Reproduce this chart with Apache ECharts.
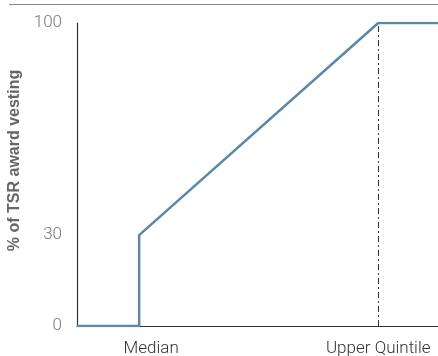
<!DOCTYPE html>
<html>
<head>
<meta charset="utf-8">
<script src="https://cdn.jsdelivr.net/npm/echarts@6/dist/echarts.min.js"></script>
<style>
  html, body { margin: 0; padding: 0; background: #fff; }
  #chart { width: 438px; height: 356px; }
</style>
</head>
<body>
<div id="chart"></div>
<script>
// Relative TSR ranking (percentile) and the share of the award that vests
const rankPercentile = [42.2, 50, 50, 80, 87.5];
const vestingPct = [0, 0, 30, 100, 100];
const xTickValues = [50, 80];
const xTickLabels = ['Median', 'Upper Quintile'];
const yTickValues = [0, 30, 100];
const upperQuintile = 80;

const chart = echarts.init(document.getElementById('chart'));
const labelFont = 'Roboto, "Liberation Sans", Arial, sans-serif';
const nameFont = '"Liberation Sans", Arial, sans-serif';

chart.setOption({
  animation: false,
  grid: { left: 77, right: 0, top: 23, bottom: 30, outerBoundsMode: 'none', containLabel: false },
  graphic: [{
    type: 'line',
    shape: { x1: 9, y1: 4.5, x2: 438, y2: 4.5 },
    style: { stroke: '#888', lineWidth: 1 }
  }],
  xAxis: {
    type: 'value',
    min: 42.2,
    max: 87.5,
    splitLine: { show: false },
    axisLine: { show: true, lineStyle: { color: '#333', width: 1.2 } },
    axisTick: { show: false },
    axisLabel: {
      customValues: xTickValues,
      formatter: v => {
        const i = xTickValues.indexOf(v);
        return i === 0 ? '{m|' + xTickLabels[i] + '}' : (xTickLabels[i] || '');
      },
      rich: {
        m: { padding: [0, 0, 0, 24], color: '#333', fontSize: 17, fontWeight: 300, fontFamily: labelFont }
      },
      color: '#333',
      fontSize: 17,
      fontWeight: 300,
      fontFamily: labelFont,
      margin: 14,
      hideOverlap: false
    }
  },
  yAxis: {
    type: 'value',
    min: 0,
    max: 100,
    name: '% of TSR award vesting',
    nameLocation: 'middle',
    nameGap: 51,
    nameTextStyle: {
      color: '#666', fontSize: 16, fontWeight: 'bold', fontFamily: nameFont,
      padding: [0, 0, 0, 28]
    },
    splitLine: { show: false },
    axisLine: { show: true, lineStyle: { color: '#333', width: 1.2 } },
    axisTick: { show: false },
    axisLabel: {
      customValues: yTickValues,
      color: '#7a7a7a',
      fontSize: 17,
      fontWeight: 300,
      fontFamily: labelFont,
      margin: 15
    }
  },
  series: [{
    type: 'line',
    data: rankPercentile.map((x, i) => [x, vestingPct[i]]),
    symbol: 'none',
    lineStyle: { color: '#5b88a5', width: 2.5 },
    markLine: {
      silent: true,
      symbol: 'none',
      label: { show: false },
      lineStyle: { color: '#333', width: 1, type: [6, 3, 2, 3] },
      data: [[{ coord: [upperQuintile, 0] }, { coord: [upperQuintile, 100] }]]
    },
    z: 3
  }]
});
</script>
</body>
</html>
